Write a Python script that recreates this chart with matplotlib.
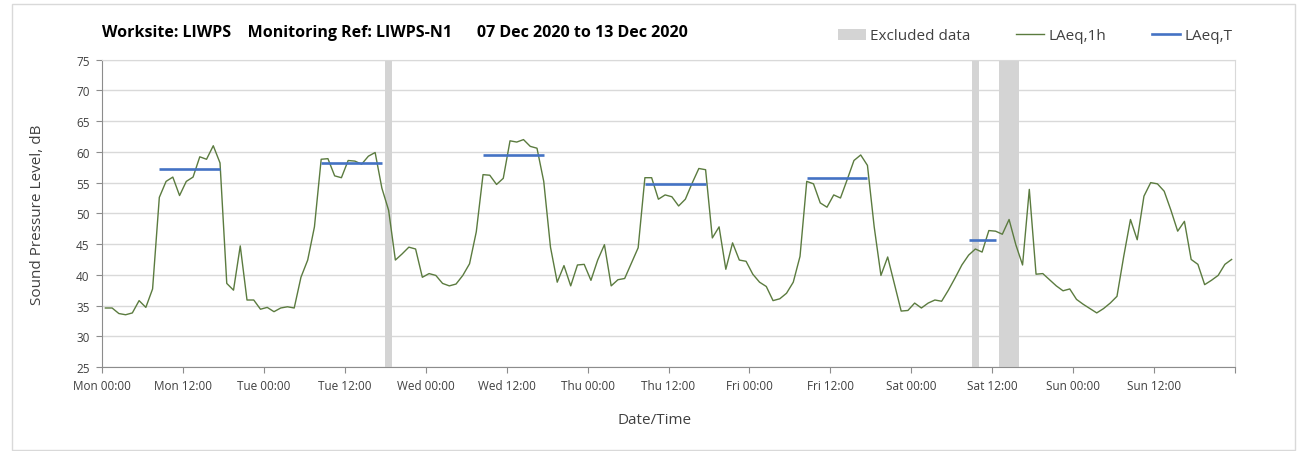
import matplotlib.pyplot as plt
import numpy as np
from matplotlib.patches import Patch, Rectangle
from matplotlib.lines import Line2D

plt.rcParams['font.family'] = ['Open Sans', 'DejaVu Sans']

# Hourly LAeq,1h values, Mon 00:00 .. Sun 23:00
laeq_1h = [
    # Mon
    34.6, 34.6, 33.7, 33.5, 33.8, 35.8, 34.7, 37.7, 52.6, 55.2, 55.9, 52.9,
    55.2, 55.9, 59.2, 58.8, 61.0, 58.2, 38.6, 37.5, 44.7, 35.9, 35.9, 34.4,
    # Tue
    34.7, 34.0, 34.6, 34.8, 34.6, 39.6, 42.4, 47.8, 58.8, 58.9, 56.1, 55.8,
    58.6, 58.5, 58.0, 59.3, 59.9, 54.1, 50.5, 42.4, 43.4, 44.5, 44.2, 39.6,
    # Wed
    40.2, 39.9, 38.6, 38.2, 38.5, 39.9, 41.8, 47.0, 56.3, 56.2, 54.7, 55.7,
    61.8, 61.6, 62.0, 60.9, 60.6, 55.2, 44.5, 38.8, 41.5, 38.2, 41.6, 41.7,
    # Thu
    39.1, 42.4, 44.9, 38.2, 39.2, 39.4, 41.9, 44.4, 55.8, 55.8, 52.3, 53.0,
    52.7, 51.2, 52.3, 54.9, 57.3, 57.1, 46.0, 47.8, 40.9, 45.2, 42.4, 42.2,
    # Fri
    40.1, 38.8, 38.1, 35.8, 36.1, 37.0, 38.8, 43.0, 55.2, 54.8, 51.7, 51.0,
    53.0, 52.5, 55.5, 58.6, 59.5, 57.8, 47.8, 39.9, 42.9, 38.5, 34.1, 34.2,
    # Sat
    35.4, 34.6, 35.4, 35.9, 35.7, 37.5, 39.5, 41.6, 43.2, 44.2, 43.7, 47.2,
    47.1, 46.6, 49.0, 44.9, 41.6, 53.9, 40.1, 40.2, 39.2, 38.2, 37.4, 37.7,
    # Sun
    36.0, 35.2, 34.5, 33.8, 34.5, 35.4, 36.5, 43.0, 49.0, 45.7, 52.8, 55.0,
    54.8, 53.6, 50.5, 47.1, 48.7, 42.5, 41.7, 38.4, 39.1, 39.9, 41.7, 42.5,
]

# hours (from Mon 00:00) flagged as excluded data
excluded_hours = [42, 129, 133, 134, 135]

# LAeq,T periods (first and last hour) and levels
period_start = [8, 32, 56, 80, 104, 128]
period_end = [17, 41, 65, 89, 113, 132]
laeq_t = [57.2, 58.2, 59.5, 54.8, 55.8, 45.6]

tick_labels = ['Mon 00:00', 'Mon 12:00', 'Tue 00:00', 'Tue 12:00',
               'Wed 00:00', 'Wed 12:00', 'Thu 00:00', 'Thu 12:00',
               'Fri 00:00', 'Fri 12:00', 'Sat 00:00', 'Sat 12:00',
               'Sun 00:00', 'Sun 12:00', '']

title = ('Worksite: LIWPS    Monitoring Ref: LIWPS-N1      '
         '07 Dec 2020 to 13 Dec 2020')

green = '#5b7b3f'
blue = '#4472c4'
band = '#d4d4d4'
grid = '#d9d9d9'
txt = '#404040'

W, H = 1303, 452
fig = plt.figure(figsize=(W / 100, H / 100), dpi=100)
fig.patches.append(Rectangle((12 / W, 0.003), 1283 / W, 1 - 5 / H - 0.003,
                             transform=fig.transFigure, fill=False,
                             edgecolor='#d9d9d9', linewidth=1))

ax = fig.add_axes([102 / W, 1 - 368 / H, 1133 / W, (368 - 60.7) / H])

hours = np.arange(len(laeq_1h)) + 0.5

# excluded data bands
ax.bar(np.array(excluded_hours) + 0.5, 50, bottom=25, width=1.0,
       color=band, linewidth=0, zorder=2)

ax.plot(hours, laeq_1h, color=green, linewidth=1.0, zorder=3)

for s, e, v in zip(period_start, period_end, laeq_t):
    ax.plot([s + 0.5, e + 0.5], [v, v], color=blue, linewidth=1.9,
            solid_capstyle='butt', zorder=4)

ax.set_xlim(0, 168)
ax.set_ylim(25, 75)
ax.set_yticks(np.arange(25, 76, 5))
ax.set_xticks(np.arange(0, 169, 12))
ax.set_xticklabels(tick_labels)
ax.set_xticks(np.arange(24, 168, 24), minor=True)

ax.grid(axis='y', color=grid, linewidth=1.0, zorder=0)
ax.grid(axis='x', which='minor', color=grid, linewidth=1.0, zorder=0)
ax.set_axisbelow(True)

for side in ['left', 'bottom']:
    ax.spines[side].set_color('#8c8c8c')
for side in ['top', 'right']:
    ax.spines[side].set_color(grid)

ax.tick_params(axis='both', which='major', direction='out', length=4,
               color='#8c8c8c', labelsize=8.5, labelcolor=txt, pad=5)
ax.tick_params(axis='x', which='minor', length=0)

ax.set_ylabel('Sound Pressure Level, dB', fontsize=11, color=txt, labelpad=22)
fig.text(655 / W, 1 - 421 / H, 'Date/Time', fontsize=11, color=txt,
         ha='center', va='center')

fig.text(102 / W, 1 - 33 / H, title, fontsize=11.5, fontweight='bold',
         ha='left', va='center')

handles = [Patch(facecolor=band, edgecolor='none'),
           Line2D([], [], color=green, linewidth=1.0),
           Line2D([], [], color=blue, linewidth=1.9)]
fig.legend(handles, ['Excluded data', 'LAeq,1h', 'LAeq,T'], ncol=3,
           loc='center right', bbox_to_anchor=(1246 / W, 1 - 37 / H),
           frameon=False, fontsize=11, handlelength=1.8, handletextpad=0.3,
           columnspacing=3.0, labelcolor=txt)

fig.savefig('out.png', dpi=100)
